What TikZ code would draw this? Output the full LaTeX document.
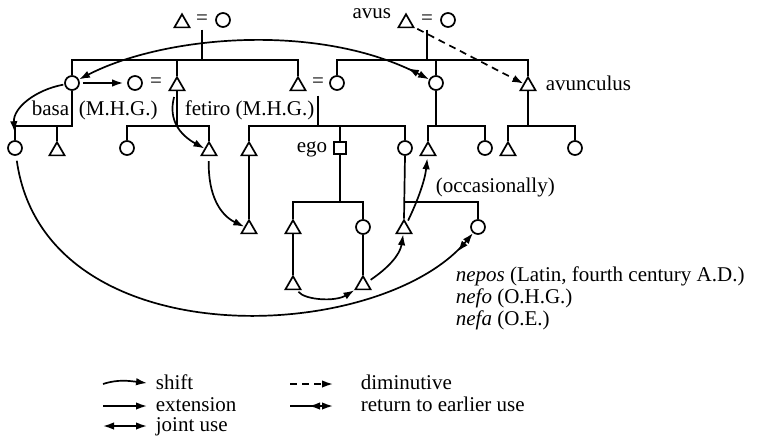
\documentclass[tikz,border=0pt]{standalone}
\usepackage{fontspec}
\setmainfont{Liberation Serif}
\usetikzlibrary{arrows.meta,shapes.geometric}
\begin{document}
\begin{tikzpicture}[x=1pt,y=-1pt,
  line width=1.7pt,
  male/.style={draw,regular polygon,regular polygon sides=3,inner sep=0pt,minimum size=17.5pt},
  female/.style={draw,circle,inner sep=0pt,minimum size=14pt},
  egobox/.style={draw,rectangle,inner sep=0pt,minimum size=12pt},
  lbl/.style={inner sep=0pt,font=\fontsize{21}{23}\selectfont},
  eqs/.style={inner sep=1pt,font=\fontsize{21}{23}\selectfont},
  shiftarrow/.style={-{Latex[length=11pt,width=7.5pt]}},
  extarrow/.style={-{Latex[length=11pt,width=7.5pt]}},
  jointarrow/.style={{Latex[length=11pt,width=7.5pt]}-{Latex[length=11pt,width=7.5pt]}},
  dimarrow/.style={dash pattern=on 7pt off 5pt,-{Latex[length=11pt,width=7.5pt]}},
  retarrow/.style={-{Latex[length=11pt,width=7.5pt,reversed,sep=2pt]Latex[length=11pt,width=7.5pt]}},
  retjoint/.style={{Latex[length=11pt,width=7.5pt]}-{Latex[length=11pt,width=7.5pt,reversed,sep=2pt]Latex[length=11pt,width=7.5pt]}},
]
\useasboundingbox (0,0) rectangle (762,445);

% ---- generation I: the two grandparent couples
\node[male] (t0) at (182,23) {};
\node[eqs] (e0) at (202,20) {=};
\node[female] (c0) at (223,20) {};
\node[lbl,anchor=base east] (lavus) at (392,18) {avus};
\node[male] (t3) at (406,23) {};
\node[eqs] (e3) at (427,20) {=};
\node[female] (c4) at (448,20) {};

% ---- generation II
\node[female] (c1) at (72,83) {};
\node[female] (c2) at (135,83) {};
\node[eqs] (e1) at (156,83) {=};
\node[male] (t1) at (177,86) {};
\node[male] (t2) at (298,86) {};
\node[eqs] (e2) at (318,83) {=};
\node[female] (c3) at (337,83) {};
\node[female] (c5) at (436,83) {};
\node[male] (t4) at (528,86) {};
\node[lbl,anchor=base west] (lavunc) at (545,90) {avunculus};
\node[lbl,anchor=base west] (lbasa) at (31,115) {basa};
\node[lbl,anchor=base west] (lmhg) at (78,115) {(M.H.G.)};
\node[lbl,anchor=base west] (lfetiro) at (184,115) {fetiro (M.H.G.)};

% ---- generation III
\node[female] (c6) at (15,148) {};
\node[male] (t5) at (57,151) {};
\node[female] (c7) at (127,148) {};
\node[male] (t6) at (209,151) {};
\node[male] (t7) at (249,151) {};
\node[egobox] (s1) at (340,148) {};
\node[lbl,anchor=base east] (lego) at (328,152) {ego};
\node[female] (c8) at (405,148) {};
\node[male] (t8) at (428,151) {};
\node[female] (c9) at (485,148) {};
\node[male] (t9) at (508,151) {};
\node[female] (c10) at (575,148) {};

% ---- generation IV
\node[male] (t10) at (249,229) {};
\node[male] (t11) at (293,229) {};
\node[female] (c11) at (363,227) {};
\node[male] (t12) at (404,229) {};
\node[female] (c12) at (478,227) {};
\node[lbl,anchor=base west] (locc) at (435,192) {(occasionally)};

% ---- generation V
\node[male] (t13) at (293,285) {};
\node[male] (t14) at (363,285) {};

\node[lbl,anchor=base west] (lnepos) at (455,281) {\textit{nepos} (Latin, fourth century A.D.)};
\node[lbl,anchor=base west] (lnefo) at (455,303) {\textit{nefo} (O.H.G.)};
\node[lbl,anchor=base west] (lnefa) at (455,325) {\textit{nefa} (O.E.)};

% ---- descent lines
\coordinate (j0) at (203,60);
\coordinate (j1) at (428,60);
\coordinate (j2) at (72,126);
\coordinate (j3) at (340,202);

\draw[shorten <=3pt] (e0.south) -- (e0.south |- j0);
\draw (c1.north) -- (c1.north |- j0) -- (t2.north |- j0) -- (t2.north);
\draw (t1.north) -- (t1.north |- j0);

\draw[shorten <=3pt] (e3.south) -- (e3.south |- j1);
\draw (c3.north) -- (c3.north |- j1) -- (t4.north |- j1) -- (t4.north);
\draw (c5.north) -- (c5.north |- j1);

\draw (c1.south) |- (c6.north |- j2) -- (c6.north);
\draw (t5.north) -- (t5.north |- j2);

\draw (t1.south) |- (c7.north |- j2) -- (c7.north);
\draw (t1.south |- j2) -- (t6.north |- j2) -- (t6.north);

\draw[shorten <=6pt] (e2.south) -- (e2.south |- j2);
\draw (t7.north) -- (t7.north |- j2) -- (c8.north |- j2) -- (c8.north);
\draw (s1.north) -- (s1.north |- j2);

\draw (c5.south) -- (c5.south |- j2);
\draw (t8.north) -- (t8.north |- j2) -- (c9.north |- j2) -- (c9.north);
\draw (t4.south) -- (t4.south |- j2);
\draw (t9.north) -- (t9.north |- j2) -- (c10.north |- j2) -- (c10.north);

\draw (t7.south) -- (t10.north);
\draw (s1.south) -- (j3);
\draw (t11.north) -- (t11.north |- j3) -- (c11.north |- j3) -- (c11.north);
\draw (c8.south) -- (t12.north);
\draw (c8.south |- j3) -- (c12.north |- j3) -- (c12.north);
\draw (t11.south) -- (t13.north);
\draw (c11.south) -- (t14.north);

% ---- semantic changes
\draw[retjoint] (c1) .. controls (165,35) and (320,22) .. (c5);
\draw[shiftarrow,shorten <=1pt,shorten >=8pt] (c1) .. controls (35,90) and (13,108) .. (c6.north);
\draw[extarrow,shorten <=3pt,shorten >=4pt] (c1) -- (c2);
\draw[shiftarrow,shorten <=6pt] (t1) .. controls (168,120) and (180,135) .. (t6);
\draw[shiftarrow,shorten <=5pt] (t6) .. controls (208,195) and (220,215) .. (t10);
\draw[retarrow,shorten <=5pt] (c6) .. controls (45,360) and (380,345) .. (c12);
\draw[shiftarrow,shorten <=2pt] (t13) .. controls (305,300) and (335,302) .. (t14);
\draw[shiftarrow,shorten <=4pt] (t14) .. controls (388,268) and (400,255) .. (t12);
\draw[shiftarrow,shorten <=3pt,shorten >=2pt] (t12) .. controls (418,200) and (425,180) .. (t8);
\draw[dimarrow,shorten <=3pt] (t3) -- (t4);

% ---- legend
\node[lbl,anchor=base west] (kshift) at (155,389) {shift};
\node[lbl,anchor=base west] (kext) at (155,411) {extension};
\node[lbl,anchor=base west] (kjoint) at (155,431) {joint use};
\node[lbl,anchor=base west] (kdim) at (360,389) {diminutive};
\node[lbl,anchor=base west] (kret) at (360,411) {return to earlier use};
\coordinate (k1) at (103,384);
\coordinate (k2) at (103,406);
\coordinate (k3) at (103,426);
\coordinate (k4) at (290,384);
\coordinate (k5) at (290,406);
\draw[shiftarrow,shorten >=8pt] (k1) .. controls (118,379) and (130,381) .. (k1 -| kshift.west);
\draw[extarrow,shorten >=8pt] (k2) -- (k2 -| kext.west);
\draw[jointarrow,shorten >=8pt] (k3) -- (k3 -| kjoint.west);
\draw[dimarrow,shorten >=27pt] (k4) -- (k4 -| kdim.west);
\draw[retarrow,shorten >=27pt] (k5) -- (k5 -| kret.west);
\end{tikzpicture}
\end{document}
